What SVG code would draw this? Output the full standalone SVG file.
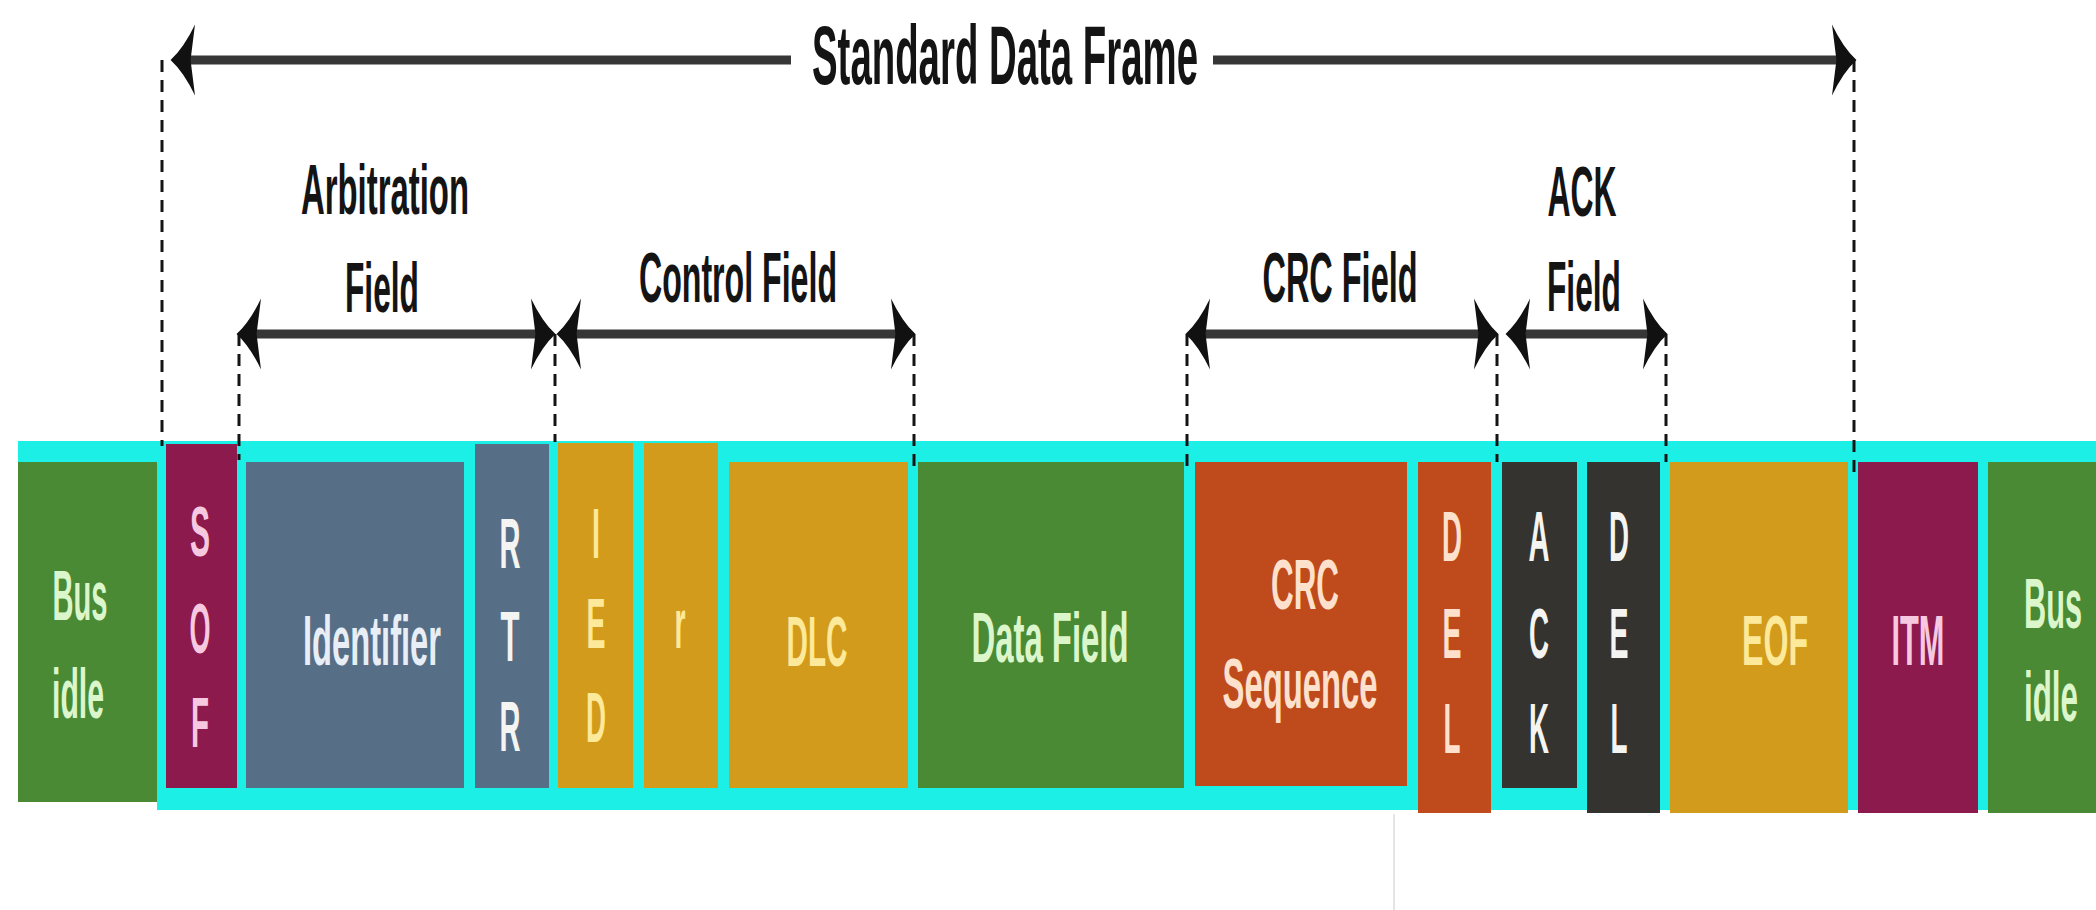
<svg xmlns="http://www.w3.org/2000/svg" width="2096" height="910" viewBox="0 0 2096 910">
  <style>
    .lbl { font-family: "Liberation Sans", Arial, sans-serif; font-weight: bold; fill: #141414; font-size: 70px; }
    .ttl { font-family: "Liberation Sans", Arial, sans-serif; font-weight: bold; fill: #141414; font-size: 84px; }
    .blk { font-family: "Liberation Sans", Arial, sans-serif; font-weight: bold; font-size: 70px; }
    .dash { stroke: #141414; stroke-width: 3; stroke-dasharray: 12 8; fill: none; }
    .span { stroke: #363636; stroke-width: 9; fill: none; }
    .green { fill: #4a8a35; }
    .maroon { fill: #8c1a4d; }
    .slate { fill: #566f87; }
    .gold { fill: #d39b1b; }
    .rust { fill: #bf4a1b; }
    .dark { fill: #35332f; }
    .t-green { fill: #dcf6cb; }
    .t-pink { fill: #f7c9e0; }
    .t-slate { fill: #e8eef5; }
    .t-gold { fill: #fde99a; }
    .t-rust { fill: #fde1cd; }
    .t-white { fill: #f4f4f2; }
  </style>
  <defs>
    <marker id="head" markerUnits="userSpaceOnUse" orient="auto-start-reverse" markerWidth="40" markerHeight="80" refX="0" refY="0" viewBox="-12 -36 28 72" overflow="visible">
      <path d="M13,0 Q1,-11 -9,-32 L-5,0 L-9,32 Q1,11 13,0 Z" fill="#111"/>
    </marker>
  </defs>

  <!-- cyan frame band behind the fields -->
  <path id="frame-band" d="M18,441 H2096 V810 H157 V462 H18 Z" fill="#1cf0e6"/>

  <!-- fields -->
  <g id="bus-idle-start">
    <rect class="green" x="18" y="462" width="139" height="340"/>
    <text class="blk t-green" x="80" y="620" text-anchor="middle" textLength="55" lengthAdjust="spacingAndGlyphs">Bus</text>
    <text class="blk t-green" x="78" y="718" text-anchor="middle" textLength="52" lengthAdjust="spacingAndGlyphs">idle</text>
  </g>
  <g id="sof">
    <rect class="maroon" x="166" y="444" width="71" height="344"/>
    <text class="blk t-pink" x="200" y="556" text-anchor="middle" textLength="20" lengthAdjust="spacingAndGlyphs">S</text>
    <text class="blk t-pink" x="200" y="653" text-anchor="middle" textLength="21" lengthAdjust="spacingAndGlyphs">O</text>
    <text class="blk t-pink" x="200" y="747" text-anchor="middle" textLength="18" lengthAdjust="spacingAndGlyphs">F</text>
  </g>
  <g id="identifier">
    <rect class="slate" x="246" y="462" width="218" height="326"/>
    <text class="blk t-slate" x="372" y="665" text-anchor="middle" textLength="138" lengthAdjust="spacingAndGlyphs">Identifier</text>
  </g>
  <g id="rtr">
    <rect class="slate" x="475" y="444" width="74" height="344"/>
    <text class="blk t-white" x="510" y="568" text-anchor="middle" textLength="21" lengthAdjust="spacingAndGlyphs">R</text>
    <text class="blk t-white" x="510" y="661" text-anchor="middle" textLength="19" lengthAdjust="spacingAndGlyphs">T</text>
    <text class="blk t-white" x="510" y="751" text-anchor="middle" textLength="21" lengthAdjust="spacingAndGlyphs">R</text>
  </g>
  <g id="ide">
    <rect class="gold" x="558" y="443" width="75" height="345"/>
    <text class="blk t-gold" x="596" y="558" text-anchor="middle" textLength="8" lengthAdjust="spacingAndGlyphs">I</text>
    <text class="blk t-gold" x="596" y="648" text-anchor="middle" textLength="19" lengthAdjust="spacingAndGlyphs">E</text>
    <text class="blk t-gold" x="596" y="742" text-anchor="middle" textLength="20" lengthAdjust="spacingAndGlyphs">D</text>
  </g>
  <g id="reserved">
    <rect class="gold" x="644" y="443" width="74" height="345"/>
    <text class="blk t-gold" x="680" y="648" text-anchor="middle" textLength="11" lengthAdjust="spacingAndGlyphs">r</text>
  </g>
  <g id="dlc">
    <rect class="gold" x="729" y="462" width="179" height="326"/>
    <text class="blk t-gold" x="817" y="666" text-anchor="middle" textLength="61" lengthAdjust="spacingAndGlyphs">DLC</text>
  </g>
  <g id="data-field">
    <rect class="green" x="918" y="462" width="266" height="326"/>
    <text class="blk t-green" x="1050" y="662" text-anchor="middle" textLength="157" lengthAdjust="spacingAndGlyphs">Data Field</text>
  </g>
  <g id="crc-sequence">
    <rect class="rust" x="1195" y="462" width="212" height="324"/>
    <text class="blk t-rust" x="1305" y="609" text-anchor="middle" textLength="68" lengthAdjust="spacingAndGlyphs">CRC</text>
    <text class="blk t-rust" x="1300" y="708" text-anchor="middle" textLength="155" lengthAdjust="spacingAndGlyphs">Sequence</text>
  </g>
  <g id="crc-delimiter">
    <rect class="rust" x="1418" y="462" width="73" height="351"/>
    <text class="blk t-rust" x="1452" y="561" text-anchor="middle" textLength="20" lengthAdjust="spacingAndGlyphs">D</text>
    <text class="blk t-rust" x="1452" y="658" text-anchor="middle" textLength="19" lengthAdjust="spacingAndGlyphs">E</text>
    <text class="blk t-rust" x="1452" y="753" text-anchor="middle" textLength="17" lengthAdjust="spacingAndGlyphs">L</text>
  </g>
  <g id="ack-slot">
    <rect class="dark" x="1502" y="462" width="75" height="326"/>
    <text class="blk t-white" x="1539" y="561" text-anchor="middle" textLength="21" lengthAdjust="spacingAndGlyphs">A</text>
    <text class="blk t-white" x="1539" y="658" text-anchor="middle" textLength="20" lengthAdjust="spacingAndGlyphs">C</text>
    <text class="blk t-white" x="1539" y="753" text-anchor="middle" textLength="20" lengthAdjust="spacingAndGlyphs">K</text>
  </g>
  <g id="ack-delimiter">
    <rect class="dark" x="1587" y="462" width="73" height="351"/>
    <text class="blk t-white" x="1619" y="561" text-anchor="middle" textLength="20" lengthAdjust="spacingAndGlyphs">D</text>
    <text class="blk t-white" x="1619" y="658" text-anchor="middle" textLength="19" lengthAdjust="spacingAndGlyphs">E</text>
    <text class="blk t-white" x="1619" y="753" text-anchor="middle" textLength="17" lengthAdjust="spacingAndGlyphs">L</text>
  </g>
  <g id="eof">
    <rect class="gold" x="1670" y="462" width="178" height="351"/>
    <text class="blk t-gold" x="1775" y="665" text-anchor="middle" textLength="66" lengthAdjust="spacingAndGlyphs">EOF</text>
  </g>
  <g id="itm">
    <rect class="maroon" x="1858" y="462" width="120" height="351"/>
    <text class="blk t-pink" x="1918" y="665" text-anchor="middle" textLength="53" lengthAdjust="spacingAndGlyphs">ITM</text>
  </g>
  <g id="bus-idle-end">
    <rect class="green" x="1988" y="462" width="108" height="351"/>
    <text class="blk t-green" x="2053" y="628" text-anchor="middle" textLength="58" lengthAdjust="spacingAndGlyphs">Bus</text>
    <text class="blk t-green" x="2051" y="721" text-anchor="middle" textLength="54" lengthAdjust="spacingAndGlyphs">idle</text>
  </g>

  <!-- faint edge line below the bar -->
  <line x1="1394" y1="814" x2="1394" y2="910" stroke="#dcdcdc" stroke-width="1.5"/>

  <!-- span labels -->
  <g id="labels">
    <text class="ttl" x="1005" y="84" text-anchor="middle" textLength="386" lengthAdjust="spacingAndGlyphs">Standard Data Frame</text>
    <text class="lbl" x="385" y="214" text-anchor="middle" textLength="168" lengthAdjust="spacingAndGlyphs">Arbitration</text>
    <text class="lbl" x="382" y="312" text-anchor="middle" textLength="74" lengthAdjust="spacingAndGlyphs">Field</text>
    <text class="lbl" x="738" y="302" text-anchor="middle" textLength="198" lengthAdjust="spacingAndGlyphs">Control Field</text>
    <text class="lbl" x="1340" y="302" text-anchor="middle" textLength="155" lengthAdjust="spacingAndGlyphs">CRC Field</text>
    <text class="lbl" x="1582" y="216" text-anchor="middle" textLength="69" lengthAdjust="spacingAndGlyphs">ACK</text>
    <text class="lbl" x="1584" y="311" text-anchor="middle" textLength="74" lengthAdjust="spacingAndGlyphs">Field</text>
  </g>

  <!-- connectors: dashed boundary guides and span arrows -->
  <g id="connectors">
    <line class="dash" x1="162" y1="60" x2="162" y2="446"/>
    <line class="dash" x1="239" y1="334" x2="239" y2="460"/>
    <line class="dash" x1="555" y1="334" x2="555" y2="442"/>
    <line class="dash" x1="914" y1="334" x2="914" y2="468"/>
    <line class="dash" x1="1187" y1="334" x2="1187" y2="466"/>
    <line class="dash" x1="1497" y1="334" x2="1497" y2="462"/>
    <line class="dash" x1="1666" y1="334" x2="1666" y2="462"/>
    <line class="dash" x1="1854" y1="60" x2="1854" y2="472"/>

    <line class="span" x1="185" y1="60" x2="791" y2="60" marker-start="url(#head)"/>
    <line class="span" x1="1213" y1="60" x2="1842" y2="60" marker-end="url(#head)"/>
    <line class="span" x1="251" y1="334" x2="541" y2="334" marker-start="url(#head)" marker-end="url(#head)"/>
    <line class="span" x1="571" y1="334" x2="901" y2="334" marker-start="url(#head)" marker-end="url(#head)"/>
    <line class="span" x1="1200" y1="334" x2="1484" y2="334" marker-start="url(#head)" marker-end="url(#head)"/>
    <line class="span" x1="1520" y1="334" x2="1653" y2="334" marker-start="url(#head)" marker-end="url(#head)"/>
  </g>
</svg>
